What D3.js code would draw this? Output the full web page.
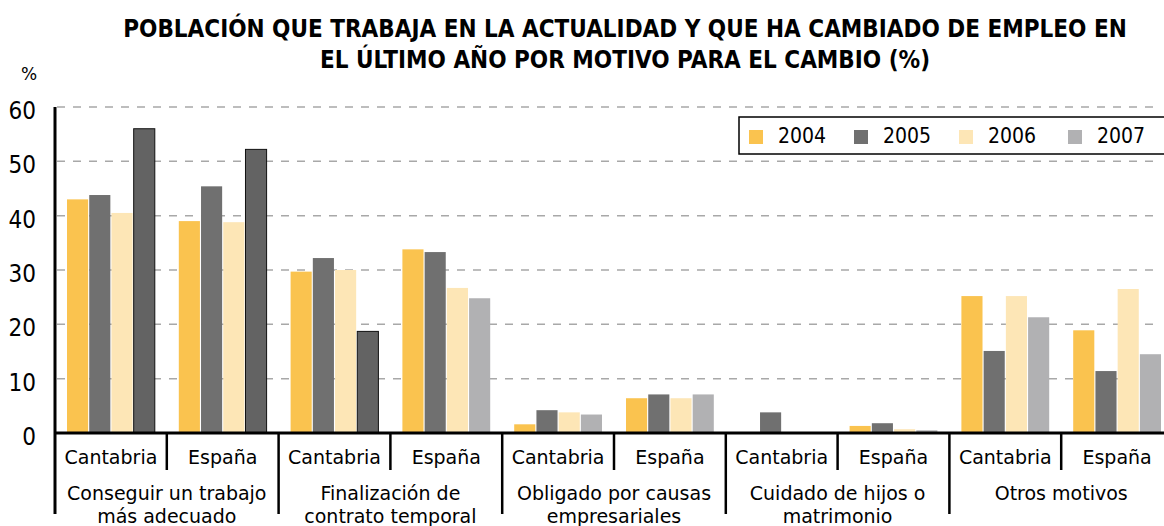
<!DOCTYPE html>
<html>
<head>
<meta charset="utf-8">
<script src="https://cdn.jsdelivr.net/npm/d3@7.9.0/dist/d3.min.js"></script>
<style>
  body { margin: 0; background: #fff; }
  svg { display: block; font-family: "DejaVu Sans", sans-serif; }
  .cond { font-family: "DejaVu Sans Condensed", "DejaVu Sans", sans-serif; font-stretch: condensed; }
</style>
</head>
<body>
<svg id="chart" width="1164" height="526"></svg>
<script>
// Data
const reasons = [
    ["Conseguir un trabajo", "más adecuado"],
    ["Finalización de", "contrato temporal"],
    ["Obligado por causas", "empresariales"],
    ["Cuidado de hijos o", "matrimonio"],
    ["Otros motivos"]
];
const regions = ["Cantabria", "España"];
const years = ["2004", "2005", "2006", "2007"];
// one entry per reason x region, values per year
const values2004 = [43.0, 39.0, 29.7, 33.8, 1.6, 6.4, 0.0, 1.3, 25.2, 18.9];
const values2005 = [43.8, 45.4, 32.2, 33.3, 4.2, 7.1, 3.8, 1.8, 15.1, 11.4];
const values2006 = [40.5, 38.8, 30.0, 26.7, 3.8, 6.4, 0.0, 0.7, 25.2, 26.5];
const values2007 = [56.0, 52.2, 18.7, 24.8, 3.4, 7.1, 0.0, 0.5, 21.3, 14.5];
const yTicks = [0, 10, 20, 30, 40, 50, 60];
// subgroups whose 2007 bar is drawn dark in the original
const darkBars = [0, 1, 2];

const colors = { "2004": "#fac34f", "2005": "#707070", "2006": "#fde6b6", "2007": "#b1b1b3" };

const svg = d3.select('#chart');
const plotLeft = 55, plotRight = 1173, plotTop = 107, plotBottom = 433;

const subgroups = d3.range(reasons.length * regions.length);
const x0 = d3.scaleBand().domain(subgroups).range([plotLeft, plotRight]);
const x1 = d3.scaleBand().domain(years).range([12, x0.bandwidth() - 12]).paddingInner(0.05);
const y = d3.scaleLinear().domain([0, 60]).range([plotBottom, plotTop]);

const series = { "2004": values2004, "2005": values2005, "2006": values2006, "2007": values2007 };

// title
const title = svg.append('g').attr('class', 'cond').attr('font-weight', 'bold').attr('font-size', 24)
    .attr('text-anchor', 'middle').attr('fill', '#000');
title.append('text').attr('x', 625).attr('y', 37)
    .text('POBLACIÓN QUE TRABAJA EN LA ACTUALIDAD Y QUE HA CAMBIADO DE EMPLEO EN');
title.append('text').attr('x', 625).attr('y', 68)
    .text('EL ÚLTIMO AÑO POR MOTIVO PARA EL CAMBIO (%)');

svg.append('text').attr('x', 21).attr('y', 80).attr('font-size', 17).text('%');

// grid lines
svg.append('g').selectAll('line').data(yTicks.filter(d => d > 0)).join('line')
    .attr('x1', plotLeft + 2).attr('x2', 1160)
    .attr('y1', d => y(d)).attr('y2', d => y(d))
    .attr('stroke', '#a8a8a8').attr('stroke-width', 1.5)
    .attr('stroke-dasharray', '8,8');

// y tick labels
svg.append('g').attr('class', 'cond').selectAll('text').data(yTicks).join('text')
    .attr('x', 36).attr('y', d => y(d) + 12)
    .attr('text-anchor', 'end').attr('font-size', 24)
    .text(d => d);

// bars
const bars = svg.append('g');
subgroups.forEach(i => {
    years.forEach(yr => {
        const v = series[yr][i];
        if (v <= 0) return;
        const dark = yr === "2007" && darkBars.includes(i);
        bars.append('rect')
            .attr('x', x0(i) + x1(yr))
            .attr('y', y(v))
            .attr('width', x1.bandwidth())
            .attr('height', y(0) - y(v))
            .attr('fill', dark ? '#636363' : colors[yr])
            .attr('stroke', dark ? '#111' : 'none')
            .attr('stroke-width', dark ? 1 : 0);
    });
});

// axes
svg.append('line').attr('x1', plotLeft).attr('x2', 1164).attr('y1', plotBottom).attr('y2', plotBottom)
    .attr('stroke', '#000').attr('stroke-width', 3);
svg.append('line').attr('x1', plotLeft).attr('x2', plotLeft).attr('y1', plotTop).attr('y2', 514)
    .attr('stroke', '#000').attr('stroke-width', 3);

// category dividers and labels
const cats = svg.append('g').attr('font-size', 19).attr('text-anchor', 'middle');
subgroups.forEach(i => {
    const xs = x0(i);
    if (i > 0) {
        const isGroup = i % 2 === 0;
        cats.append('line').attr('x1', xs).attr('x2', xs)
            .attr('y1', plotBottom).attr('y2', isGroup ? 514 : 470)
            .attr('stroke', '#000').attr('stroke-width', 2.5);
    }
    cats.append('text').attr('x', xs + x0.bandwidth() / 2).attr('y', 464)
        .text(regions[i % 2]);
});
reasons.forEach((lines, g) => {
    const cx = x0(g * 2) + x0.bandwidth();
    lines.forEach((t, k) => {
        cats.append('text').attr('x', cx).attr('y', 500 + k * 23).text(t);
    });
});

// legend
const legend = svg.append('g');
legend.append('rect').attr('x', 739).attr('y', 117).attr('width', 440).attr('height', 37)
    .attr('fill', '#fff').attr('stroke', '#000').attr('stroke-width', 1.5);
const legendX = [749, 854, 959, 1068];
years.forEach((yr, i) => {
    legend.append('rect').attr('x', legendX[i]).attr('y', 130).attr('width', 14).attr('height', 14)
        .attr('fill', colors[yr]);
    legend.append('text').attr('class', 'cond').attr('x', legendX[i] + 29).attr('y', 143)
        .attr('font-size', 21).text(yr);
});
</script>
</body>
</html>
